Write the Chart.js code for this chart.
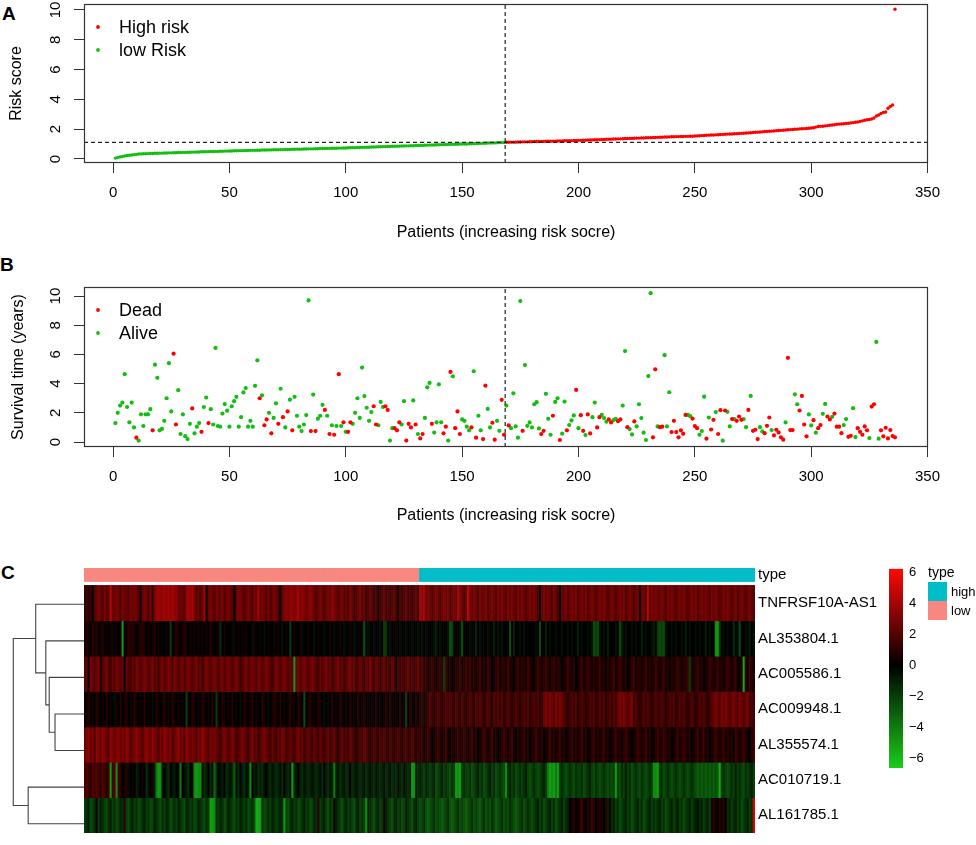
<!DOCTYPE html>
<html>
<head>
<meta charset="utf-8">
<script src="https://cdn.jsdelivr.net/npm/chart.js@4.4.1/dist/chart.umd.min.js"></script>
<style>
  body { margin: 0; background: #fff; width: 976px; height: 845px; position: relative; overflow: hidden;
         font-family: 'Liberation Sans', Arial, Helvetica, sans-serif; }
  canvas { position: absolute; }
  .tag { position: absolute; font-weight: bold; font-size: 19px; line-height: 19px; }
</style>
</head>
<body>
<div class="tag" style="left:2px;top:4px">A</div>
<div class="tag" style="left:0px;top:255px">B</div>
<div class="tag" style="left:1px;top:563px">C</div>

<canvas id="riskChart" width="976" height="250" style="left:0;top:0"></canvas>
<canvas id="survChart" width="976" height="300" style="left:0;top:250px"></canvas>
<canvas id="dendroChart" width="84" height="290" style="left:0;top:555px"></canvas>
<canvas id="heatChart" width="805" height="290" style="left:84px;top:555px"></canvas>
<canvas id="keyChart" width="96" height="230" style="left:880px;top:555px"></canvas>

<script>
// ---- data ----
const patientTicks = [0, 50, 100, 150, 200, 250, 300, 350];
const riskTicks = [0, 2, 4, 6, 8, 10];
const survTicks = [0, 2, 4, 6, 8, 10];

// sorted risk score, patients 1..336
const riskScore = [
  0.06,0.10,0.14,0.17,0.20,0.23,0.25,0.27,0.29,0.31,0.33,0.34,
  0.35,0.35,0.36,0.37,0.37,0.38,0.38,0.39,0.39,0.40,0.40,0.41,0.41,0.42,0.42,0.43,0.43,0.44,
  0.44,0.45,0.45,0.46,0.46,0.47,0.47,0.48,0.48,0.49,0.49,0.50,0.50,0.51,0.51,0.52,0.52,0.53,0.53,0.54,
  0.54,0.55,0.55,0.56,0.56,0.56,0.57,0.57,0.58,0.58,0.58,0.59,0.59,0.60,0.60,0.60,0.61,0.61,0.62,0.62,
  0.62,0.63,0.63,0.64,0.64,0.64,0.65,0.65,0.66,0.66,0.66,0.67,0.67,0.68,0.68,0.68,0.69,0.69,0.70,0.70,
  0.70,0.71,0.71,0.72,0.72,0.72,0.73,0.73,0.74,0.74,
  0.75,0.75,0.76,0.76,0.77,0.77,0.78,0.78,0.79,0.79,0.80,0.80,0.81,0.82,0.82,0.83,0.83,0.84,0.84,0.85,
  0.85,0.86,0.86,0.87,0.87,0.88,0.88,0.89,0.89,0.90,0.90,0.91,0.91,0.92,0.93,0.93,0.94,0.94,0.95,0.95,
  0.96,0.96,0.97,0.97,0.98,0.98,0.99,0.99,1.00,1.00,
  1.01,1.01,1.02,1.02,1.03,1.04,1.04,1.05,1.05,1.06,1.07,1.07,1.08,1.08,1.09,1.10,1.10,1.11,
  1.12,1.12,1.13,1.13,1.13,1.14,1.14,1.15,1.15,1.15,1.16,1.16,1.17,1.17,1.17,1.18,1.18,1.19,1.19,1.19,
  1.20,1.20,1.21,1.21,1.21,1.22,1.22,1.23,1.23,1.24,1.24,1.25,
  1.25,1.26,1.26,1.27,1.28,1.28,1.29,1.29,1.30,1.31,1.31,1.32,1.32,1.33,1.34,1.34,1.35,1.35,1.36,1.37,
  1.37,1.38,1.38,1.39,1.40,1.40,1.41,1.41,1.42,1.43,1.43,1.44,1.44,1.45,1.46,1.46,1.47,1.47,1.48,1.49,
  1.49,1.50,1.50,1.51,1.51,1.52,1.52,1.53,1.53,1.54,
  1.55,1.56,1.57,1.58,1.59,1.60,1.61,1.61,1.62,1.63,1.64,1.65,1.66,1.67,1.68,1.68,1.69,1.70,1.71,1.72,
  1.73,1.74,1.75,1.76,1.78,
  1.79,1.80,1.81,1.82,1.84,1.85,1.86,1.87,1.88,1.90,1.91,1.92,1.93,1.94,1.96,1.97,1.98,1.99,2.00,2.02,
  2.03,2.04,2.05,2.06,2.08,
  2.10,2.14,2.18,2.19,2.20,2.22,2.24,2.26,2.28,2.30,2.33,2.34,2.35,2.36,2.38,2.40,2.42,2.44,2.46,2.48,
  2.52,2.56,2.60,2.63,2.65,2.68,2.75,2.88,2.95,3.05,3.12,3.15,3.40,3.52,3.62,10.05
];
const riskCut = 1.12;      // horizontal dashed line
const splitAt = 168.5;     // vertical dashed line (median patient)

// survival time (years), same patient order
const survTime = [
  1.3,2.0,2.5,2.7,4.65,2.4,1.35,2.7,1.0,0.3, 0.1,1.9,1.1,1.9,1.9,2.25,0.8,5.3,4.4,0.8,
  0.9,1.45,3.0,5.4,2.1,6.05,1.2,3.55,0.55,1.9, 0.4,0.2,1.25,2.3,0.6,1.05,1.3,0.7,2.4,3.05,
  1.3,2.25,1.2,6.45,1.1,1.05,1.95,2.6,2.15,1.05, 2.45,2.8,3.1,1.05,1.7,3.4,3.7,1.05,1.45,1.05,
  3.85,5.6,3.0,3.2,1.15,1.55,2.0,0.6,1.65,2.65, 1.25,3.65,1.7,1.0,2.1,2.9,0.8,3.1,1.8,1.05,
  0.75,1.2,1.85,9.7,0.75,3.25,0.75,1.6,1.8,2.55, 2.2,1.8,0.55,1.15,0.5,1.1,4.65,1.1,1.35,0.7,
  0.7,1.35,1.25,2.0,3.0,1.65,5.1,3.15,2.35,1.45, 2.05,2.45,1.2,1.15,2.75,2.4,2.45,2.2,0.1,0.95,
  0.95,0.8,1.35,1.2,2.8,0.1,1.25,1.0,2.85,1.2, 0.55,0.25,0.55,1.65,3.75,4.05,1.25,0.65,1.35,3.95,
  1.35,0.6,1.05,0.1,4.8,4.5,0.95,2.1,0.55,1.55, 1.45,1.05,0.8,1.0,4.85,0.3,1.8,0.8,0.2,
  3.86,2.27,1.0,1.32,0.16,1.45,0.77,2.89,0.5,2.5, 1.14,0.95,3.34,1.07,0.3,9.66,0.77,5.27,1.11,1.34,
  1.0,2.59,2.73,0.93,0.55,0.77,3.3,1.59,0.5,1.8, 2.75,3.0,0.14,0.57,2.77,0.8,1.16,1.48,1.82,3.57,
  0.95,1.84,0.77,0.48,1.89,0.59,1.7,2.7,1.0,1.7, 1.86,1.64,1.39,1.55,1.34,1.5,1.59,1.43,1.55,2.5,
  6.23,1.02,0.89,0.52,1.41,1.07,2.59,1.64,0.64,0.14, 4.52,10.2,0.32,4.98,1.07,1.02,1.05,5.95,1.07,3.41,
  0.68,1.45,0.68,0.32,0.8,0.57,1.86,1.86,1.77,1.61, 1.09,0.95,0.5,0.75,3.11,0.23,1.68,0.86,1.52,2.05,
  0.55,2.18,0.09,2.16,2.07,1.07,1.57,1.57,1.45,1.75, 1.52,1.57,1.02,2.2,3.16,0.77,0.84,0.2,1.02,0.73,
  0.61,1.11,1.68,0.82,0.45,0.84,0.66,0.32,0.16,1.34, 5.77,0.82,0.82,3.27,2.59,2.16,3.16,1.2,0.39,1.89,
  1.14,1.5,0.64,0.95,1.16,1.93,2.61,1.75,1.55,1.73, 1.95,1.05,1.05,0.61,1.16,1.57,0.36,0.43,2.32,0.34,
  0.95,0.7,0.5,1.07,0.8,0.27,2.43,2.59,6.86,0.23, 0.8,0.39,0.98,0.25,0.82,0.41,0.32
];
// 1 = dead, 0 = alive
const survStatus = [
  0,0,0,0,0,0,0,0,0,1, 0,0,0,0,0,0,1,0,0,0, 0,0,0,0,0,1,1,0,0,0, 0,0,0,1,0,0,0,1,0,0,
  1,0,0,0,0,0,0,0,0,0, 0,0,0,0,0,0,0,0,0,0, 0,0,1,0,1,1,0,1,0,0, 1,0,1,0,1,0,1,0,0,0,
  0,0,0,0,1,0,1,0,0,0, 1,0,1,0,1,0,1,0,1,0, 1,1,0,0,0,0,0,0,0,0, 0,1,1,0,0,0,1,1,0,0,
  1,1,1,0,0,1,1,1,0,1, 0,1,1,0,0,0,1,0,0,0, 0,1,1,0,1,0,1,1,1,0, 0,0,0,1,0,1,0,0,1,
  1,0,0,1,1,0,0,1,1,0, 1,0,0,0,0,0,1,0,0,0, 0,0,0,0,1,1,0,0,0,1, 0,0,1,0,0,1,0,0,0,1,
  0,1,1,0,1,1,0,0,1,1, 0,0,0,1,1,0,0,1,1,0, 0,1,0,0,1,0,0,0,0,0, 0,0,1,1,0,1,1,0,0,0,
  1,1,1,1,1,1,1,0,0,1, 1,1,0,0,0,1,0,1,1,0, 1,1,0,1,0,0,1,0,1,1, 1,0,0,1,0,1,1,1,0,0,
  1,1,1,0,1,1,1,1,1,0, 1,1,1,0,0,1,1,1,1,0, 0,1,0,1,1,0,0,1,1,0, 1,1,1,1,0,0,1,1,0,0,
  1,1,1,1,1,0,1,1,0,0, 1,1,1,1,1,1,1
];

const geneNames = ['TNFRSF10A-AS1', 'AL353804.1', 'AC005586.1', 'AC009948.1',
                   'AL355574.1', 'AC010719.1', 'AL161785.1'];
// expression per patient, one letter per cell: A = -6 ... M = 0 ... Y = +6 (steps of 0.5)
const heatCodes = [
  `OPOPMQRS RQSQRVRR SRQSRRQS RSRQNRSR QSOSTUTT UTUTUTTR
   RRQTUTUS QRQRUMRS RQSRRSQR SRQMRSSR QRSRQSRU RSRQSQRS
   RQMRSTST TSTUSTSR STSRQRSR QRSRTSRQ RSQRQSRP QRSQRPQR
   QPQNPQRP QPQRPNQP QRPQPQRP UTURSRQR SRQRSRSQ RSRUSRQR
   VSRSRQSR RSQRSRQS RSRQSRSR QSRSRQRS RSRQMRSR SRQSRQMR
   RSQRSRSQ RSRSQRSR QRSRSRQR SRQRSRSQ RSRQRSMR SQVRSRSR
   RSRQSRSR QRSRSRQR SRSQRSRS RQSRSRQR SRSRQRSQ RSRQRSRQ`,
  `NONMONOM NOMNMNNM NMNCMNON ONMNOONM NMNOMNMM MNMIMNON
   MNONMNMN MNMNMNMO NMMNJMNM MMNLMNMN MNMMLNMM NMLMNMMN
   MNMLMNMI MNMMNLMM NMMLMNMM LMMNMLMM NMLMMNML MMMMHMLM
   MLMMLMIJ MLMMNMLM MLMMLMML MLMLMMML KMLMMMLH IMMMLHMM
   MLMMKMLM MMLMMKML MLMMMHMK MMLMLMMM MMLMHMMK MLMMLMML
   MMLMLMMK MLMMLMLH IHLMLMKM MMLMHKML MMLMLMMK MLMMLKMI
   HIHLMMLM LMMLMKML MMLMLMMK MLMMDCIM LMLMMJML HMMLMKML`,
  `QRMSRQRS NQRSQPRQ SRQRMRQP RQSRQRSR QRSQRPRS QRSRQSRQ
   RSQRSRQR SQRPRSRQ RSRQRSQR SRQRSRPQ RSQRSRQS RQRSRQPR
   SRQRSRQR QCRSQRSR QRSRQPRQ RSQRPQRS QRPQRSQR PQRQPRQS
   QPRQPQRP QPRQLQPQ PQRPQPQR PQOPNOPO NOPOIPNO MNOOPNOP
   OPNONOPN ONPOMNOP NOONPONM OPNOONPO NMOPONOP ONOPNOOM
   NOPONOMN OPNOPONO NOPNOMON OPNOPONO MNOPNOON OPNONOPO
   NOPNOMON OPONOOPI ONOPNOMN OPONOPNO NOPONOPM NOBONPON`,
  `MNOMNMON MNMOMNML NMOMNOMN MONMNMOM NMLMONMN OMNMONMN
   MNMINMON MNMONMNM OMINMONM NMOMNMLM ONMNOMNM MONMLMNO
   NMOMNMNO MNMONMHM NOMNMONM LMNMOMNM ONMNMOMN MOMNOMNM
   NMOMNMNO MONMNMOM NIMONMOM OPLOPQPO PQPOPQPQ POQPOQPO
   PQPOQPQP OPQPOQPQ PQOPQPOP QPOPQPQO PQPQOPRS RSRQSRSR
   QPOPQPQO PQPOPQPQ OPQPQOPQ PQPRSRSR QRSPQPOP QPQPOPQP
   PQPOPQPQ OPQPQPOP QPOPQPQP OPQRSRQS RSRQRSRQ SRQRSPQP`,
  `RSTRSQTS RTSRQTSR STRSRTSQ RSTSRQST SRTSRQSR TSRSQRST
   RSQTSRSR QSRTSRQS RSRQPRSR QRSRPQRS RQPRSQRP QRSRQPRQ
   PRQSRPQR QPRSQRPQ RQPRQPRQ PQRPQRPO QRPQPRQP OPQPRQPO
   PQPOQPQP OQPOPQPO PQOPQPOP OPNOPOMN OPONOPNM ONOPNOPO
   NOPNOMNO PONOPNOM NOPONOPN MONOPNOM NOPONOMN OPNONOPN
   OMNOPNON OPNOMNOP NONOPNOM NOPNONOP ONMNOPON OPNOMNOP
   NOPONOMN OPNOPONO MNOPNOPN OMNOPONO PNONOMPO NOPONMOP`,
  `PQPOQPQP OQPOPCPQ DPOMNOLM NMKLMNMJ LMNKECDL MKJMLKML
   EMLKJMLD CDDLJKMJ LFJMLKMJ KLJGLJMK JLKDMKLJ KJLMKJLK
   JKLJMKJL CJLMKJLK JKLKJKLJ MKJLKEKL JKLJKMJK LKJKLJKL
   KJLKJKLJ KLJKJLKJ LKJKCDKJ KJIKJIJK HIJKIJIH JICDCIJI
   IJHIJKIJ HIJKIJHI JIHDJKIJ HIJIJKIH IJIHIJKI ECDCECIJ
   IHIJIHJI IJHIJKIH JIHIJIHI HICIHJIK IJHIJIHJ IHIJIDDC
   IJHIJIHI JIHIJIHI JIHGHGHG HGHGHGBI JIHIJIKI JIHJIJKI`,
  `IJKHIJNI KJIHJKIJ HIKJOIHJ KIJHIJKI JHIKJIHJ IKJHIJIK
   JIHKJIJH IKJIHJIC CDJIKJHI KJIHJIKJ IJHIJHBB CJHIJIKJ
   IJKJCIHJ KIJHIJKI JHIKJOIJ KIHJINKJ IHJKIJIH JKIJIDKJ
   IHJKIJNK JIHJKIJH IKJIHJKI HIJHGHIJ HIHGHIJH GHIJHIHG
   HIJHIHGI JHIHJIGH IJHIHJIH GHIJHIJI HIJKIJHI JKIJHIJK
   IJKMNOMN OPNMONPO MNONMOKN JKIJHIJK IJHIJKIJ HIJKIJIJ
   KIJHIJKI JKIJHIJK IJKLJKIJ KINONMON OMJKIJKI JHIJKIJW`
];

// row dendrogram (hclust style: negative = leaf, positive = earlier merge)
const rowMerge = [[-4, -5], [-3, 1], [-2, 2], [-1, 3], [-6, -7], [4, 5]];
const rowHeight = [4.08, 4.9, 5.38, 6.8, 7.86, 9.96];

const typeLevels = ['high', 'low'];
const typeColors = { high: '#00BDC7', low: '#F8877F' };
const legendTicks = [-6, -4, -2, 0, 2, 4, 6];
const scaleMin = -6.64, scaleMax = 6.26;

// ---- styling ----
const FONT = "'Liberation Sans', Arial, Helvetica, sans-serif";
Chart.defaults.font.family = FONT;
Chart.defaults.color = '#000';
Chart.defaults.animation = false;
Chart.defaults.plugins.legend.display = false;
Chart.defaults.plugins.tooltip.enabled = false;

const RED = '#FF0000', GREEN = '#12BE12';
const xMin = -12.5, xMax = 350.2;

const heatRows = heatCodes.map(s => s.replace(/\s+/g, ''));

// box round the plot region, as R draws it
const rFrame = {
  id: 'rFrame',
  afterDatasetsDraw(chart) {
    const { ctx, chartArea: a } = chart;
    ctx.save();
    ctx.strokeStyle = '#333';
    ctx.lineWidth = 1.2;
    ctx.strokeRect(a.left + 0.5, a.top + 0.5, a.width - 1, a.height - 1);
    ctx.restore();
  }
};

// y tick labels turned 90 degrees
const rYLabels = {
  id: 'rYLabels',
  afterDraw(chart) {
    const s = chart.scales.y, ctx = chart.ctx;
    ctx.save();
    ctx.font = '15px ' + FONT;
    ctx.fillStyle = '#000';
    ctx.textAlign = 'center';
    ctx.textBaseline = 'middle';
    s.ticks.forEach(t => {
      ctx.save();
      ctx.translate(chart.chartArea.left - 28, s.getPixelForValue(t.value));
      ctx.rotate(-Math.PI / 2);
      ctx.fillText(String(t.value), 0, 0);
      ctx.restore();
    });
    ctx.restore();
  }
};

// legend in the top-left corner of the plot
const rLegend = {
  id: 'rLegend',
  afterDraw(chart, args, opts) {
    const { ctx, chartArea: a } = chart;
    ctx.save();
    ctx.font = '18px ' + FONT;
    ctx.textBaseline = 'middle';
    opts.items.forEach((di, k) => {
      const ds = chart.data.datasets[di];
      const y = a.top + 23 + k * 23;
      ctx.fillStyle = ds.backgroundColor;
      ctx.beginPath();
      ctx.arc(a.left + 14, y, 1.9, 0, Math.PI * 2);
      ctx.fill();
      ctx.fillStyle = '#000';
      ctx.fillText(ds.label, a.left + 35, y + 1);
    });
    ctx.restore();
  }
};

function rScales(yMin, yMax, yTicks, xTitle, yTitle, xAxisH, xTitlePad, yTitlePad) {
  const tickGrid = { display: true, drawOnChartArea: false, drawTicks: true, tickLength: 10, color: '#333', lineWidth: 1 };
  return {
    x: {
      type: 'linear', min: xMin, max: xMax, grid: tickGrid, border: { display: false },
      ticks: { font: { size: 15 }, padding: 11, maxRotation: 0 },
      afterBuildTicks: s => { s.ticks = patientTicks.map(v => ({ value: v })); },
      afterFit: s => { s.height = xAxisH; },
      title: { display: true, text: xTitle, font: { size: 16 }, padding: { top: 0, bottom: xTitlePad } }
    },
    y: {
      type: 'linear', min: yMin, max: yMax, grid: tickGrid, border: { display: false },
      ticks: { display: false },
      afterBuildTicks: s => { s.ticks = yTicks.map(v => ({ value: v })); },
      afterFit: s => { s.width = 84; },
      title: { display: true, text: yTitle, font: { size: 16 }, padding: { top: yTitlePad, bottom: 0 } }
    }
  };
}

function dashed(points) {
  return { type: 'line', data: points, showLine: true, borderColor: '#222', borderWidth: 1.2,
           borderDash: [4, 3], pointRadius: 0, order: 0 };
}

// ---- A: risk score ----
const riskYMin = -0.27, riskYMax = 10.4;
const lowPts = [], highPts = [];
riskScore.forEach((v, i) => ((i + 1) < splitAt ? lowPts : highPts).push({ x: i + 1, y: v }));

new Chart(document.getElementById('riskChart'), {
  type: 'scatter',
  data: {
    datasets: [
      { label: 'High risk', data: highPts, backgroundColor: RED, pointRadius: 1.7, pointBorderWidth: 0, order: 1 },
      { label: 'low Risk', data: lowPts, backgroundColor: GREEN, pointRadius: 1.7, pointBorderWidth: 0, order: 1 },
      dashed([{ x: xMin, y: riskCut }, { x: xMax, y: riskCut }]),
      dashed([{ x: splitAt, y: riskYMin }, { x: splitAt, y: riskYMax }])
    ]
  },
  options: {
    responsive: false,
    layout: { padding: { left: 0, top: 4, right: 48, bottom: 0 } },
    scales: rScales(riskYMin, riskYMax, riskTicks, 'Patients (increasing risk socre)', 'Risk score', 87, 8, 7),
    plugins: { rLegend: { items: [0, 1] } }
  },
  plugins: [rFrame, rYLabels, rLegend]
});

// ---- B: survival status ----
const survYMin = -0.34, survYMax = 10.62;
const deadPts = [], alivePts = [];
survTime.forEach((t, i) => (survStatus[i] ? deadPts : alivePts).push({ x: i + 1, y: t }));

new Chart(document.getElementById('survChart'), {
  type: 'scatter',
  data: {
    datasets: [
      { label: 'Dead', data: deadPts, backgroundColor: RED, pointRadius: 2.1, pointBorderWidth: 0, order: 1 },
      { label: 'Alive', data: alivePts, backgroundColor: GREEN, pointRadius: 2.1, pointBorderWidth: 0, order: 1 },
      dashed([{ x: splitAt, y: survYMin }, { x: splitAt, y: survYMax }])
    ]
  },
  options: {
    responsive: false,
    layout: { padding: { left: 0, top: 37, right: 48, bottom: 0 } },
    scales: rScales(survYMin, survYMax, survTicks, 'Patients (increasing risk socre)', 'Survival time (years)', 103, 25, 9),
    plugins: { rLegend: { items: [0, 1] } }
  },
  plugins: [rFrame, rYLabels, rLegend]
});

// ---- C: heatmap ----
const annTop = -0.492, annBottom = -0.109;   // annotation band above the rows
const patientIds = riskScore.map((v, i) => i + 1);
const patientType = patientIds.map(p => (p < splitAt ? 'low' : 'high'));

// green - black - red, black at zero
function heatColor(v) {
  if (v < 0) {
    const k = Math.min(1, -v / -scaleMin);
    return `rgb(${Math.round(25 * k)},${Math.round(205 * k)},${Math.round(25 * k)})`;
  }
  const k = Math.min(1, v / scaleMax);
  return `rgb(${Math.round(255 * k)},${Math.round(8 * k)},${Math.round(8 * k)})`;
}
const decode = ch => (ch.charCodeAt(0) - 77) / 2;

const cellSets = heatRows.map((codes, r) => ({
  label: geneNames[r],
  data: patientIds.map(() => [r, r + 1]),
  backgroundColor: codes.split('').map(c => heatColor(decode(c))),
  grouped: false, barPercentage: 1, categoryPercentage: 1, borderWidth: 0, borderSkipped: false
}));
cellSets.push({
  label: 'type',
  data: patientIds.map(() => [annTop, annBottom]),
  backgroundColor: patientType.map(t => typeColors[t]),
  grouped: false, barPercentage: 1, categoryPercentage: 1, borderWidth: 0, borderSkipped: false
});

const rowTickVals = [(annTop + annBottom) / 2].concat(geneNames.map((g, i) => i + 0.5));
const rowTickText = ['type'].concat(geneNames);

new Chart(document.getElementById('heatChart'), {
  type: 'bar',
  data: { labels: patientIds, datasets: cellSets },
  options: {
    responsive: false,
    layout: { padding: { left: 0, top: 13, right: 0, bottom: 3 } },
    scales: {
      x: { type: 'category', display: false },
      y: {
        type: 'linear', reverse: true, min: annTop, max: geneNames.length, position: 'right',
        grid: { display: false, drawTicks: false }, border: { display: false },
        ticks: { padding: 3, font: { size: 15 }, crossAlign: 'near', callback: (v, i) => rowTickText[i] },
        afterBuildTicks: s => { s.ticks = rowTickVals.map(v => ({ value: v })); },
        afterFit: s => { s.width = 134; }
      }
    }
  }
});

// row dendrogram
const leafY = geneNames.map((g, i) => i + 0.5);
const nodeH = [], nodeY = [];
const dendroPts = [];
const place = m => (m < 0 ? { h: 0, y: leafY[-m - 1] } : { h: nodeH[m - 1], y: nodeY[m - 1] });
rowMerge.forEach(([a, b], k) => {
  const A = place(a), B = place(b), h = rowHeight[k];
  dendroPts.push({ x: A.h, y: A.y }, { x: h, y: A.y }, { x: h, y: B.y }, { x: B.h, y: B.y }, { x: h, y: null });
  nodeH.push(h);
  nodeY.push((A.y + B.y) / 2);
});

new Chart(document.getElementById('dendroChart'), {
  type: 'scatter',
  data: { datasets: [{ data: dendroPts, showLine: true, spanGaps: false, borderColor: '#444',
                       borderWidth: 1.1, pointRadius: 0, borderCapStyle: 'butt', borderJoinStyle: 'miter' }] },
  options: {
    responsive: false,
    layout: { padding: { left: 0, top: 13, right: 0, bottom: 3 } },
    scales: {
      x: { type: 'linear', reverse: true, min: 0, max: 11.83, display: false },
      y: { type: 'linear', reverse: true, min: annTop, max: geneNames.length, display: false }
    }
  }
});

// colour key and type legend
const typeKey = {
  id: 'typeKey',
  afterDraw(chart) {
    const ctx = chart.ctx;
    ctx.save();
    ctx.textBaseline = 'middle';
    ctx.fillStyle = '#000';
    ctx.font = '14px ' + FONT;
    ctx.fillText('type', 48, 18);
    ctx.font = '13px ' + FONT;
    typeLevels.forEach((lv, k) => {
      ctx.fillStyle = typeColors[lv];
      ctx.fillRect(48, 27 + k * 19, 19, 19);
      ctx.fillStyle = '#000';
      ctx.fillText(lv, 71, 37 + k * 19.5);
    });
    ctx.restore();
  }
};

new Chart(document.getElementById('keyChart'), {
  type: 'bar',
  data: {
    labels: ['key'],
    datasets: [{
      data: [[scaleMin, scaleMax]],
      barPercentage: 1, categoryPercentage: 1, borderWidth: 0, borderSkipped: false,
      backgroundColor: c => {
        const a = c.chart.chartArea;
        if (!a) return '#000';
        const g = c.chart.ctx.createLinearGradient(0, a.bottom, 0, a.top);
        const z = -scaleMin / (scaleMax - scaleMin);
        g.addColorStop(0, heatColor(scaleMin));
        g.addColorStop(z, '#000');
        g.addColorStop(1, heatColor(scaleMax));
        return g;
      }
    }]
  },
  options: {
    responsive: false,
    layout: { padding: { left: 9, top: 12, right: 0, bottom: 17 } },
    scales: {
      x: { type: 'category', display: false },
      y: {
        type: 'linear', min: scaleMin, max: scaleMax, position: 'right',
        grid: { display: false, drawTicks: false }, border: { display: false },
        ticks: { padding: 6, font: { size: 13 }, callback: v => String(v).replace('-', '\u2212') },
        afterBuildTicks: s => { s.ticks = legendTicks.map(v => ({ value: v })); },
        afterFit: s => { s.width = 73; }
      }
    }
  },
  plugins: [typeKey]
});
</script>
</body>
</html>
